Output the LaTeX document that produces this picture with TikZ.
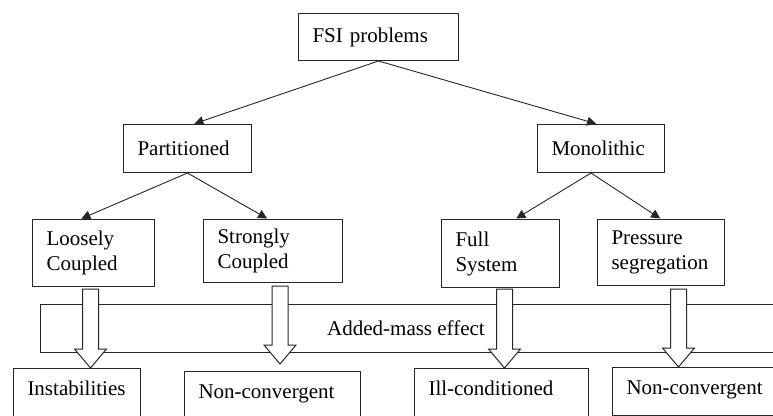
\documentclass[tikz,border=0pt]{standalone}
\usepackage{fontspec}
\setmainfont{Liberation Serif}
\usetikzlibrary{arrows.meta,calc}
\hyphenpenalty=10000
\exhyphenpenalty=10000

\tikzset{
  box/.style={draw=black!85, line width=1pt, inner xsep=14pt, align=left,
    anchor=north west, font=\fontsize{21}{25}\selectfont},
  cutbox/.style={box, text height=14pt, text depth=40pt, inner ysep=13pt},
  link/.style={line width=0.9pt, draw=black!85, shorten >=1pt,
    -{Triangle[length=9pt,width=9pt]}},
  fatarrow/.style={draw=black!85, line width=1pt, fill=white}
}

\newcommand{\blockarrow}[2]{%
  \draw[fatarrow] ($(#1)+(-8,0)$) -- ($(#1)+(8,0)$) -- ($(#2)+(8,-19)$)
    -- ($(#2)+(16,-19)$) -- (#2) -- ($(#2)+(-16,-19)$) -- ($(#2)+(-8,-19)$) -- cycle;}

\begin{document}
\begin{tikzpicture}[x=1pt, y=-1pt]
        \useasboundingbox (0, 0) rectangle (773, 415);
        \clip (0, 0) rectangle (773, 415);

        \node [box, text width=132, minimum height=47] (fsi) at (298, 13) {FSI problems};

        \node [box, text width=100, minimum height=48] (part) at (123, 124) {Partitioned};
        \node [box, text width=99, minimum height=48] (mono) at (537, 124) {Monolithic};

        \node [box, text width=94, minimum height=67] (loose) at (32, 219) {Loosely\\Coupled};
        \node [box, text width=111, minimum height=63] (strong) at (203, 219) {Strongly\\Coupled};
        \node [box, text width=90, minimum height=68] (full) at (441, 219) {Full\\System};
        \node [box, text width=99, minimum height=66] (press) at (597, 219) {Pressure\\segregation};

        \node [cutbox, text width=99] (inst) at (13, 368) {Instabilities};
        \node [cutbox, text width=148] (nc1) at (184, 371) {Non-convergent};
        \node [cutbox, text width=146] (ill) at (414, 368) {Ill-conditioned};
        \node [box, text width=170, text height=14pt, text depth=8pt, inner ysep=13pt] (nc2) at (612, 367) {Non-convergent};

        \draw [link] (fsi.south) -- ([xshift=6pt]part.north);
        \draw [link] (fsi.south) -- ([xshift=-4pt]mono.north);
        \draw [link] (part.south) -- ([xshift=-13pt]loose.north);
        \draw [link] (part.south) -- ([xshift=-5pt]strong.north);
        \draw [link] ([xshift=-10pt]mono.south) -- ([xshift=15pt]full.north);
        \draw [link] ([xshift=-10pt]mono.south) -- (press.north);

        \draw [draw=black!85, line width=1pt] (40, 304) rectangle (800, 352);
        \node [font=\fontsize{21}{25}\selectfont] (ame) at (406, 328) {Added-mass effect};

        \coordinate (a1) at ([xshift=-3pt, yshift=-2pt]loose.south);
        \coordinate (b1) at (a1 |- inst.north);
        \coordinate (a2) at ([xshift=7pt, yshift=-3pt]strong.south);
        \path (a2 |- nc1.north) ++(0, -7) coordinate (b2);
        \coordinate (a3) at ([xshift=4pt, yshift=-1pt]full.south);
        \coordinate (b3) at (a3 |- ill.north);
        \coordinate (a4) at ([xshift=17.5pt, yshift=-3pt]press.south);
        \coordinate (b4) at (a4 |- nc2.north);

        \blockarrow{a1}{b1}
        \blockarrow{a2}{b2}
        \blockarrow{a3}{b3}
        \blockarrow{a4}{b4}
\end{tikzpicture}
\end{document}
